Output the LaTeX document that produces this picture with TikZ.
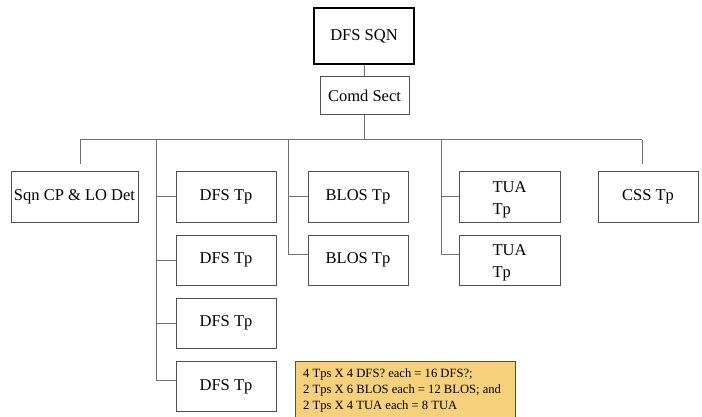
\documentclass[tikz,border=0pt]{standalone}
\usepackage{fontspec}
\setmainfont{Liberation Serif}
\definecolor{linegray}{HTML}{707070}
\definecolor{boxgray}{HTML}{505050}
\definecolor{notefill}{HTML}{F6D17C}
\begin{document}
\begin{tikzpicture}[x=1pt,y=-1pt,
  unit/.style={draw=boxgray,line width=1pt,fill=white,inner sep=0pt,
    minimum height=50pt,minimum width=100pt,
    font=\fontsize{16.5}{21.5}\selectfont,align=left},
  caption/.style={inner sep=0pt,align=left,font=\fontsize{16.5}{21.5}\selectfont},
  link/.style={draw=linegray,line width=1pt}]
\useasboundingbox[fill=white] (0,0) rectangle (702,417);

% headquarters
\node[draw=black,line width=2.6pt,minimum width=100pt,minimum height=56pt,inner sep=0pt,
  font=\fontsize{16.5}{21.5}\selectfont] (sqn) at (364,36) {DFS SQN};
\node[unit,minimum width=89pt,minimum height=38pt] (comd) at (364.5,96) {Comd Sect};

% troops
\node[unit,minimum width=127pt] (sqncp) at (74.5,197) {Sqn CP \& LO Det};
\node[unit] (dfs1) at (226,197) {DFS Tp};
\node[unit] (dfs2) at (226,260) {DFS Tp};
\node[unit] (dfs3) at (226,323) {DFS Tp};
\node[unit] (dfs4) at (226,386.5) {DFS Tp};
\node[unit] (blos1) at (358,197) {BLOS Tp};
\node[unit] (blos2) at (358,260) {BLOS Tp};
\node[unit,minimum width=101pt] (tua1) at (509.5,197) {};
\node[unit,minimum width=101pt] (tua2) at (509.5,260) {};
\node[caption] (tua1text) at ([yshift=-3pt]tua1.center) {TUA\\Tp};
\node[caption] (tua2text) at ([yshift=-3pt]tua2.center) {TUA\\Tp};
\node[unit] (css) at (648,197) {CSS Tp};

% strength note
\node[draw=boxgray,line width=1pt,fill=notefill,anchor=north west,inner sep=0pt,
  minimum width=220pt,minimum height=64pt] (note) at (295,360.5) {};
\node[anchor=north west,inner sep=0pt,align=left,
  font=\fontsize{12.6}{16}\selectfont] (notetext) at (303,369)
  {4 Tps X 4 DFS? each = 16 DFS?;\\
   2 Tps X 6 BLOS each = 12 BLOS; and\\
   2 Tps X 4 TUA each = 8 TUA};

% bus and branch points
\coordinate (busL) at (80,140);
\coordinate (busR) at (642,140);
\coordinate (tD) at (156,140);
\coordinate (tB) at (288,140);
\coordinate (tT) at (441,140);

\draw[link] (sqn) -- (comd);
\draw[link] (comd) -- (comd |- busL);
\draw[link] (busL) -- (busR);
\draw[link] (busL) -- ([xshift=5.5pt,yshift=7pt]sqncp.north);
\draw[link] (busR) -- ([xshift=-6pt,yshift=7pt]css.north);

\draw[link] (tD) |- ([yshift=6pt]dfs4.west);
\foreach \i in {1,2,3} \draw[link] (dfs\i.west) -- (tD |- dfs\i.west);
\draw[link] (tB) |- ([yshift=6pt]blos2.west);
\draw[link] (blos1.west) -- (tB |- blos1.west);
\draw[link] (tT) |- ([yshift=6pt]tua2.west);
\draw[link] (tua1.west) -- (tT |- tua1.west);
\end{tikzpicture}
\end{document}
